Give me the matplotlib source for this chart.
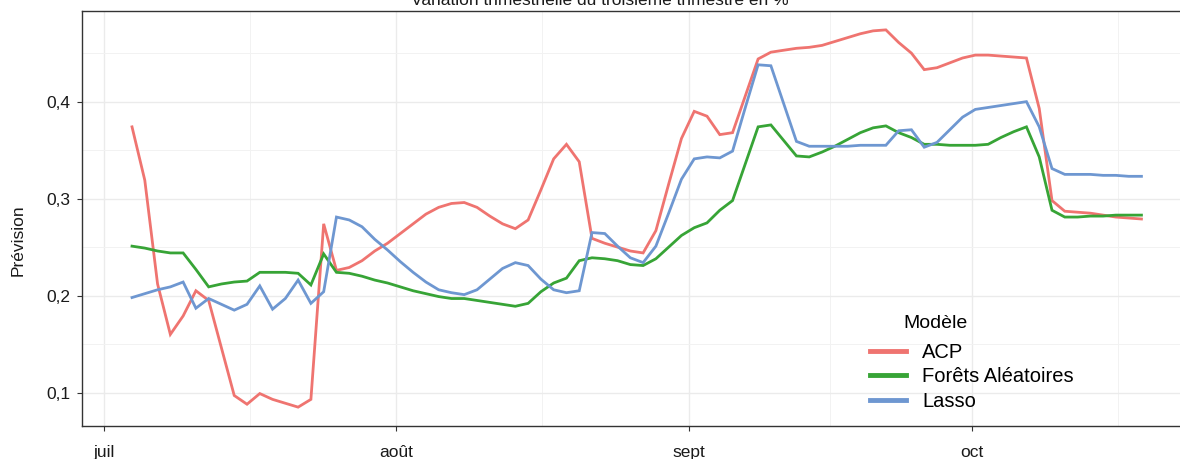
import pandas as pd
import matplotlib
matplotlib.use('Agg')
import matplotlib.pyplot as plt
from matplotlib.ticker import FuncFormatter

plt.rcParams['font.family'] = ['Liberation Sans', 'DejaVu Sans']

# dates des prévisions (pas régulier)
dates = pd.date_range('2023-07-04', '2023-10-19', periods=80)

acp = [0.374, 0.319, 0.212, 0.160, 0.179, 0.205, 0.195, 0.146, 0.097, 0.088,
       0.099, 0.093, 0.089, 0.085, 0.093, 0.274, 0.226, 0.229, 0.236, 0.246,
       0.254, 0.264, 0.274, 0.284, 0.291, 0.295, 0.296, 0.291, 0.282, 0.274,
       0.269, 0.278, 0.309, 0.341, 0.356, 0.338, 0.259, 0.254, 0.250, 0.246,
       0.244, 0.267, 0.315, 0.362, 0.390, 0.385, 0.366, 0.368, 0.406, 0.444,
       0.451, 0.453, 0.455, 0.456, 0.458, 0.462, 0.466, 0.470, 0.473, 0.474,
       0.461, 0.450, 0.433, 0.435, 0.440, 0.445, 0.448, 0.448, 0.447, 0.446,
       0.445, 0.393, 0.298, 0.287, 0.286, 0.285, 0.283, 0.281, 0.280, 0.279]

forets = [0.251, 0.249, 0.246, 0.244, 0.244, 0.227, 0.209, 0.212, 0.214, 0.215,
          0.224, 0.224, 0.224, 0.223, 0.211, 0.243, 0.224, 0.223, 0.220, 0.216,
          0.213, 0.209, 0.205, 0.202, 0.199, 0.197, 0.197, 0.195, 0.193, 0.191,
          0.189, 0.192, 0.204, 0.213, 0.218, 0.236, 0.239, 0.238, 0.236, 0.232,
          0.231, 0.238, 0.250, 0.262, 0.270, 0.275, 0.288, 0.298, 0.336, 0.374,
          0.376, 0.360, 0.344, 0.343, 0.348, 0.354, 0.361, 0.368, 0.373, 0.375,
          0.368, 0.363, 0.356, 0.356, 0.355, 0.355, 0.355, 0.356, 0.363, 0.369,
          0.374, 0.343, 0.288, 0.281, 0.281, 0.282, 0.282, 0.283, 0.283, 0.283]

lasso = [0.198, 0.202, 0.206, 0.209, 0.214, 0.187, 0.197, 0.191, 0.185, 0.191,
         0.210, 0.186, 0.197, 0.216, 0.192, 0.204, 0.281, 0.278, 0.271, 0.258,
         0.247, 0.235, 0.224, 0.214, 0.206, 0.203, 0.201, 0.206, 0.217, 0.228,
         0.234, 0.231, 0.217, 0.206, 0.203, 0.205, 0.265, 0.264, 0.251, 0.239,
         0.234, 0.251, 0.285, 0.320, 0.341, 0.343, 0.342, 0.349, 0.394, 0.438,
         0.437, 0.398, 0.359, 0.354, 0.354, 0.354, 0.354, 0.355, 0.355, 0.355,
         0.370, 0.371, 0.353, 0.358, 0.371, 0.384, 0.392, 0.394, 0.396, 0.398,
         0.400, 0.374, 0.331, 0.325, 0.325, 0.325, 0.324, 0.324, 0.323, 0.323]

modeles = ['ACP', 'Forêts Aléatoires', 'Lasso']
couleurs = ['#EF7470', '#37A436', '#6E97D1']

mois_ticks = pd.to_datetime(['2023-07-01', '2023-08-01', '2023-09-01', '2023-10-01'])
mois_labels = ['juil', 'août', 'sept', 'oct']
mois_minor = pd.to_datetime(['2023-07-16 12:00', '2023-08-16 12:00',
                             '2023-09-16 00:00', '2023-10-16 12:00'])

fig = plt.figure(figsize=(11.8, 4.59), dpi=100)
# le panneau dépasse à droite (image recadrée)
ax = fig.add_axes([0.0691, 0.0719, 0.941, 0.9041])

for serie, nom, c in zip([acp, forets, lasso], modeles, couleurs):
    ax.plot(dates, serie, color=c, lw=2.0, label=nom, solid_joinstyle='miter')

ax.margins(x=0.05, y=0.05)

ax.set_xticks(mois_ticks)
ax.set_xticklabels(mois_labels)
ax.set_xticks(mois_minor, minor=True)
ax.set_yticks([0.1, 0.2, 0.3, 0.4])
ax.set_yticks([0.15, 0.25, 0.35, 0.45], minor=True)
ax.yaxis.set_major_formatter(FuncFormatter(lambda v, p: f'{v:.1f}'.replace('.', ',')))

ax.grid(which='major', color='#EBEBEB', lw=1.0)
ax.grid(which='minor', color='#F2F2F2', lw=0.7)
ax.set_axisbelow(True)
ax.tick_params(which='minor', length=0)
ax.tick_params(axis='x', which='major', length=3.5, width=0.8, color='#333333',
               pad=10.5, labelsize=12.5, labelcolor='#1A1A1A')
ax.tick_params(axis='y', which='major', length=3.5, width=0.8, color='#333333',
               pad=4.5, labelsize=12.5, labelcolor='#1A1A1A')
for s in ax.spines.values():
    s.set_color('#333333')
    s.set_linewidth(1.0)

fig.text(600 / 1180, 454 / 459, 'Variation trimestrielle du troisième trimestre en %',
         ha='center', va='baseline', fontsize=12.5, color='#1A1A1A')
fig.text(18 / 1180, 1 - 240 / 459, 'Prévision', rotation=90, ha='center',
         va='center', fontsize=12.5, color='#1A1A1A')

fig.text(903 / 1180, 1 - 323 / 459, 'Modèle', ha='left', va='center', fontsize=14)
leg = ax.legend(loc='upper left', bbox_to_anchor=(870 / 1180, 1 - 343 / 459),
                bbox_transform=fig.transFigure, frameon=False, fontsize=14.5,
                borderpad=0, borderaxespad=0, handlelength=1.8,
                handletextpad=0.8, labelspacing=0.27)
for h in leg.legend_handles:
    h.set_linewidth(3.5)

fig.savefig('out.png', dpi=100)
